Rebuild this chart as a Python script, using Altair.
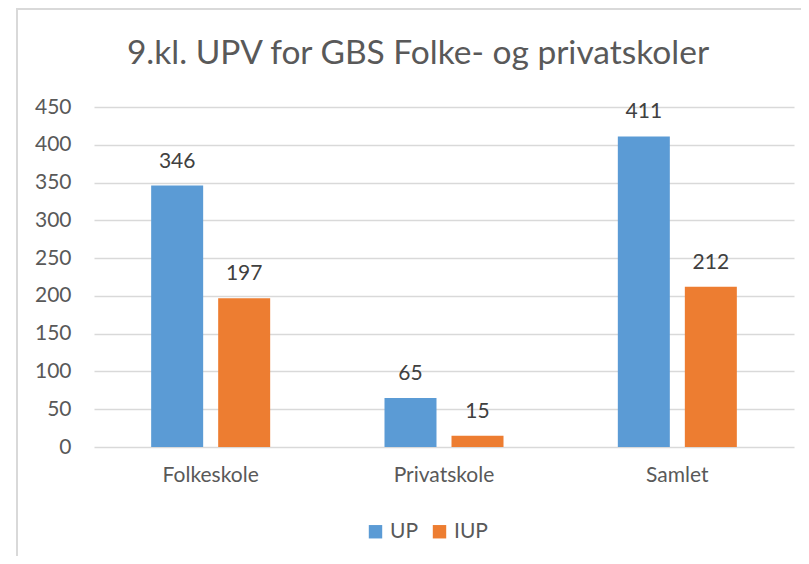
import altair as alt
import pandas as pd

categories = ["Folkeskole", "Privatskole", "Samlet"]
series = ["UP", "IUP"]
up_values = [346, 65, 411]
iup_values = [197, 15, 212]
y_ticks = [0, 50, 100, 150, 200, 250, 300, 350, 400, 450]
title_text = "9.kl. UPV for GBS Folke- og privatskoler"
colors = ["#5B9BD5", "#ED7D31"]

rows = []
for c, u, i in zip(categories, up_values, iup_values):
    rows.append({"Kategori": c, "Serie": "UP", "Antal": u})
    rows.append({"Kategori": c, "Serie": "IUP", "Antal": i})
df = pd.DataFrame(rows)

FONT = "Lato"
TXT = "#595959"

x_enc = alt.X("Kategori:N", sort=categories, title=None,
              scale=alt.Scale(paddingInner=0, paddingOuter=0),
              axis=alt.Axis(labelAngle=0, ticks=False, domain=False, grid=False,
                            labelFontSize=21, labelColor=TXT, labelFont=FONT,
                            labelPadding=17))
xo_enc = alt.XOffset("Serie:N", sort=series,
                     scale=alt.Scale(paddingInner=0.224, paddingOuter=0.853))
y_enc = alt.Y("Antal:Q", title=None,
              scale=alt.Scale(domain=[0, 450], nice=False),
              axis=alt.Axis(values=y_ticks, ticks=False, domain=False,
                            labelOverlap=False,
                            gridColor="#D9D9D9", gridWidth=1.5,
                            labelFontSize=21, labelColor=TXT, labelFont=FONT,
                            labelPadding=23))

base = alt.Chart(df).encode(x=x_enc, xOffset=xo_enc, y=y_enc)

bars = base.mark_bar().encode(
    color=alt.Color("Serie:N", sort=series,
                    scale=alt.Scale(domain=series, range=colors),
                    legend=alt.Legend(title=None, orient="none", direction="horizontal",
                                      legendX=271, legendY=414,
                                      symbolType="square", symbolSize=180,
                                      symbolStrokeWidth=0, labelFontSize=21,
                                      labelColor=TXT, labelFont=FONT,
                                      columnPadding=10, labelOffset=4)),
)

labels = base.mark_text(baseline="alphabetic", dy=-18, fontSize=21,
                        font=FONT, color="#404040").encode(text="Antal:Q")

border_left = alt.Chart(df).mark_rule(color="#D9D9D9", strokeWidth=2).encode(
    x=alt.value(-77), y=alt.value(-99), y2=alt.value(450))
border_top = alt.Chart(df).mark_rule(color="#D9D9D9", strokeWidth=2).encode(
    x=alt.value(-77), x2=alt.value(710), y=alt.value(-98))

chart = alt.layer(bars, labels, border_left, border_top).properties(
    width=700, height=340,
    title=alt.TitleParams(title_text, fontSize=33.5, font=FONT, color=TXT,
                          fontWeight="normal", anchor="middle", dx=-26, offset=-64),
    autosize=alt.AutoSizeParams(type="none"),
    padding={"left": 86, "top": 99, "right": 7, "bottom": 109},
).configure_view(stroke=None)

chart.save("out.html", embed_options={"renderer": "svg", "actions": False})
